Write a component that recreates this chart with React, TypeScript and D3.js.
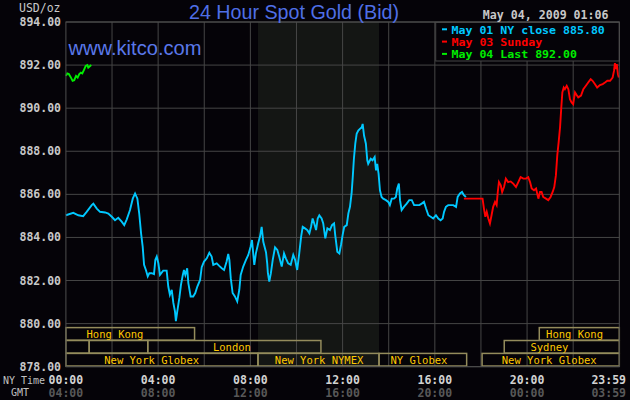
import * as d3 from 'd3';

// price axis
const priceTicks = [878, 880, 882, 884, 886, 888, 890, 892, 894];

// time axis (NY hours), labels for NY time and GMT
const labelHours = [0, 4, 8, 12, 16, 20, 24];
const nyLabels = ['00:00', '04:00', '08:00', '12:00', '16:00', '20:00', '23:59'];
const gmtLabels = ['04:00', '08:00', '12:00', '16:00', '20:00', '00:00', '03:59'];
const gridHours = [2, 4, 6, 8, 10, 12, 14, 16, 18, 20, 22];

// NYMEX pit session (shaded band)
const nymexHours = [8.33, 13.58];

// May 01 (Friday) until NY close
const mayFirst: [number, number][] = [
  [0, 885.03], [0.32, 885.14], [0.54, 885.03], [0.75, 884.99], [0.9, 885.19], [1.12, 885.5],
  [1.19, 885.57], [1.34, 885.34], [1.48, 885.19], [1.7, 885.16], [1.84, 885.11], [1.99, 884.96],
  [2.13, 884.8], [2.27, 884.91], [2.42, 884.73], [2.53, 884.57], [2.64, 884.84], [2.78, 885.27],
  [2.9, 885.8], [3.0, 886.04], [3.1, 885.8], [3.18, 885.11], [3.26, 884.19], [3.33, 883.57],
  [3.39, 882.73], [3.47, 882.49], [3.55, 882.19], [3.62, 882.34], [3.72, 882.34], [3.82, 882.3],
  [3.88, 882.96], [3.94, 883.11], [4.01, 882.8], [4.08, 882.26], [4.22, 882.46], [4.37, 882.46],
  [4.44, 881.72], [4.51, 881.34], [4.59, 881.57], [4.66, 880.96], [4.73, 880.57], [4.77, 880.11],
  [4.83, 880.57], [4.92, 881.19], [4.99, 881.8], [5.07, 882.26], [5.12, 882.49], [5.18, 882.26],
  [5.26, 882.57], [5.31, 881.88], [5.41, 881.26], [5.52, 881.26], [5.61, 881.42], [5.7, 881.72],
  [5.82, 882.03], [5.89, 882.62], [5.99, 882.88], [6.11, 883.03], [6.22, 883.29], [6.32, 883.11],
  [6.39, 882.73], [6.54, 882.8], [6.65, 882.68], [6.76, 882.57], [6.86, 882.49], [6.97, 882.88],
  [7.04, 883.23], [7.09, 882.96], [7.15, 882.11], [7.23, 881.42], [7.33, 881.26], [7.43, 881.03],
  [7.52, 881.57], [7.58, 882.26], [7.69, 882.65], [7.81, 882.96], [7.91, 883.19], [8.01, 883.57],
  [8.07, 883.88], [8.13, 883.19], [8.17, 882.73], [8.24, 883.26], [8.34, 883.73], [8.42, 884.05],
  [8.49, 884.49], [8.56, 883.8], [8.68, 883.3], [8.73, 882.8], [8.76, 882.34], [8.82, 881.95],
  [8.89, 882.34], [8.97, 882.96], [9.07, 883.54], [9.17, 883.42], [9.25, 883.11], [9.36, 882.65],
  [9.46, 883.26], [9.54, 883.03], [9.64, 882.8], [9.75, 882.73], [9.86, 883.19], [9.94, 882.96],
  [10.03, 882.49], [10.12, 883.26], [10.2, 884.03], [10.27, 884.49], [10.37, 884.42], [10.47, 884.34],
  [10.56, 884.19], [10.63, 884.49], [10.7, 884.88], [10.77, 884.65], [10.85, 884.34], [10.92, 884.88],
  [10.99, 885.03], [11.09, 884.88], [11.16, 884.65], [11.25, 883.96], [11.34, 884.42], [11.45, 884.34],
  [11.54, 884.57], [11.63, 884.65], [11.68, 884.11], [11.77, 883.34], [11.86, 883.26], [11.93, 883.65],
  [12.0, 884.11], [12.07, 884.49], [12.18, 884.57], [12.25, 885.11], [12.32, 885.42], [12.39, 886.04],
  [12.44, 886.8], [12.49, 887.65], [12.55, 888.35], [12.61, 888.81], [12.68, 888.96], [12.75, 889.04],
  [12.83, 889.11], [12.87, 889.27], [12.93, 888.73], [13.01, 888.35], [13.07, 887.58], [13.11, 887.42],
  [13.22, 887.65], [13.3, 887.58], [13.39, 887.73], [13.45, 887.11], [13.5, 887.42], [13.56, 886.96],
  [13.62, 886.19], [13.69, 885.88], [13.76, 885.8], [13.88, 885.73], [13.98, 885.65], [14.05, 885.5],
  [14.13, 885.8], [14.23, 885.8], [14.31, 885.88], [14.37, 886.27], [14.44, 886.5], [14.49, 885.73],
  [14.56, 885.27], [14.66, 885.42], [14.78, 885.57], [14.89, 885.73], [15.0, 885.73], [15.1, 885.5],
  [15.21, 885.5], [15.33, 885.5], [15.43, 885.57], [15.53, 885.65], [15.62, 885.34], [15.72, 885.03],
  [15.82, 884.96], [15.93, 884.88], [16.05, 885.03], [16.15, 884.88], [16.25, 884.8], [16.34, 884.88],
  [16.4, 885.19], [16.48, 885.42], [16.58, 885.5], [16.69, 885.5], [16.8, 885.5], [16.92, 885.42],
  [16.99, 885.88], [17.09, 886.04], [17.18, 886.11], [17.26, 885.96], [17.35, 885.88],
];

// May 03 (Sunday) evening trading
const mayThird: [number, number][] = [
  [17.26, 885.8], [18.07, 885.8], [18.13, 885.34], [18.19, 884.96], [18.25, 885.19], [18.32, 884.88],
  [18.39, 884.65], [18.46, 885.03], [18.53, 885.42], [18.61, 885.65], [18.68, 885.5], [18.73, 886.11],
  [18.78, 886.57], [18.86, 886.42], [18.92, 886.11], [19.0, 886.34], [19.08, 886.73], [19.18, 886.57],
  [19.29, 886.6], [19.4, 886.5], [19.52, 886.34], [19.62, 886.57], [19.72, 886.8], [19.84, 886.73],
  [19.95, 886.73], [20.05, 886.8], [20.13, 886.57], [20.2, 886.27], [20.3, 886.19], [20.39, 886.27],
  [20.49, 885.8], [20.56, 886.11], [20.63, 886.11], [20.7, 885.88], [20.82, 885.8], [20.92, 885.73],
  [21.02, 885.88], [21.11, 886.11], [21.18, 886.34], [21.25, 886.88], [21.31, 887.81], [21.37, 888.42],
  [21.43, 889.11], [21.48, 889.96], [21.53, 890.73], [21.59, 890.96], [21.64, 890.88], [21.72, 891.04],
  [21.79, 890.88], [21.86, 890.42], [21.93, 890.27], [22.0, 890.19], [22.08, 890.73], [22.15, 890.61],
  [22.22, 890.5], [22.34, 890.58], [22.44, 890.88], [22.55, 891.04], [22.65, 891.19], [22.76, 891.35],
  [22.84, 891.27], [22.94, 891.12], [23.04, 890.96], [23.16, 891.07], [23.28, 891.12], [23.38, 891.19],
  [23.48, 891.27], [23.6, 891.27], [23.71, 891.42], [23.77, 891.73], [23.81, 892.09], [23.86, 891.81],
  [23.89, 892.04], [23.94, 891.58], [23.98, 891.42],
];

// May 04 so far
const mayFourth: [number, number][] = [
  [0, 891.5], [0.06, 891.61], [0.13, 891.58], [0.22, 891.42], [0.29, 891.27], [0.36, 891.3],
  [0.44, 891.5], [0.51, 891.42], [0.58, 891.58], [0.65, 891.65], [0.71, 891.61], [0.78, 891.77],
  [0.86, 891.96], [0.93, 892.0], [0.97, 891.88], [1.05, 891.96], [1.1, 892.0],
];

const legendLabels = ['May 01 NY close 885.80', 'May 03 Sunday', 'May 04 Last 892.00'];
const seriesColors = ['#00c8ff', '#ff0000', '#00ee00'];

// market sessions drawn as boxes along the bottom
const sessions = [
  { row: 0, from: 0, to: 5.58, label: 'Hong Kong', mid: 2.13 },
  { row: 0, from: 20.53, to: 24, label: 'Hong Kong', mid: 22.06 },
  { row: 1, from: 0, to: 1.01, label: '', mid: 0.5 },
  { row: 1, from: 1.01, to: 3.55, label: '', mid: 2.3 },
  { row: 1, from: 3.55, to: 11.06, label: 'London', mid: 7.2 },
  { row: 1, from: 19.01, to: 24, label: 'Sydney', mid: 20.97 },
  { row: 2, from: 0, to: 8.33, label: 'New York Globex', mid: 3.72 },
  { row: 2, from: 8.33, to: 13.58, label: 'New York NYMEX', mid: 10.98 },
  { row: 2, from: 13.58, to: 17.38, label: 'NY Globex', mid: 15.31 },
  { row: 2, from: 18.05, to: 24, label: 'New York Globex', mid: 20.96 },
];

const W = 630;
const H = 400;
const mono = "'DejaVu Sans Mono', monospace";
const sans = "'Liberation Sans', Arial, sans-serif";

export default function App() {
  const x = d3.scaleLinear().domain([0, 24]).range([65.9, 619.3]);
  const y = d3.scaleLinear().domain([878, 894]).range([366.7, 22]);

  const line = d3
    .line<[number, number]>()
    .x((d) => x(d[0]))
    .y((d) => y(d[1]));

  const rowTop = (r: number) => y(880) + 4 + r * 12.9;
  const rowH = 12.6;

  const legend = { x0: 435.7, y0: 22.3, x1: 619.3, y1: 61 };

  return (
    <svg
      width={W}
      height={H}
      style={{ position: 'absolute', left: 0, top: 0, display: 'block' }}
    >
      <rect width={W} height={H} fill="#050308" />

      {/* NYMEX band */}
      <rect
        x={x(nymexHours[0])}
        y={y(894)}
        width={x(nymexHours[1]) - x(nymexHours[0])}
        height={y(878) - y(894)}
        fill="#141614"
      />

      {/* grid */}
      {priceTicks.map((p) => (
        <line key={p} x1={x(0)} x2={x(24)} y1={y(p)} y2={y(p)} stroke="#464646" strokeWidth={1} />
      ))}
      {gridHours.map((h) => (
        <line key={h} x1={x(h)} x2={x(h)} y1={y(894)} y2={y(878)} stroke="#464646" strokeWidth={1} />
      ))}

      {/* sessions */}
      {sessions.map((s, i) => (
        <g key={i}>
          <rect
            x={x(s.from)}
            y={rowTop(s.row)}
            width={x(s.to) - x(s.from)}
            height={rowH}
            fill="none"
            stroke="#948c5c"
            strokeWidth={1.5}
          />
          {s.label && (
            <text
              x={x(s.mid)}
              y={rowTop(s.row) + rowH / 2 + 0.5}
              textAnchor="middle"
              dominantBaseline="central"
              fontFamily={mono}
              fontSize={10.5}
              fill="#ffc800"
            >
              {s.label}
            </text>
          )}
        </g>
      ))}

      {/* price series */}
      {[mayFirst, mayThird, mayFourth].map((data, i) => (
        <path
          key={i}
          d={line(data) ?? ''}
          fill="none"
          stroke={seriesColors[i]}
          strokeWidth={1.9}
          strokeLinejoin="miter"
        />
      ))}

      {/* legend */}
      <rect
        x={legend.x0}
        y={legend.y0}
        width={legend.x1 - legend.x0}
        height={legend.y1 - legend.y0}
        fill="#050308"
        stroke="#464646"
        strokeWidth={1}
      />
      {legendLabels.map((t, i) => (
        <g key={t} fill={seriesColors[i]}>
          <rect x={442} y={29.3 + i * 12.3 - 1} width={5} height={2} />
          <text
            x={451.5}
            y={29.5 + i * 12.3}
            dominantBaseline="central"
            fontFamily={mono}
            fontSize={10.4}
            fontWeight="bold"
            textLength={t.length * 6.97}
            lengthAdjust="spacingAndGlyphs"
          >
            {t}
          </text>
        </g>
      ))}

      {/* plot border */}
      <rect
        x={x(0)}
        y={y(894)}
        width={x(24) - x(0)}
        height={y(878) - y(894)}
        fill="none"
        stroke="#4e4e4e"
        strokeWidth={1}
      />

      {/* y axis labels */}
      {priceTicks.map((p) => (
        <text
          key={p}
          x={61}
          y={y(p)}
          textAnchor="end"
          dominantBaseline="central"
          fontFamily={mono}
          fontSize={11.5}
          fontWeight="bold"
          fill="#c8c8c8"
        >
          {p.toFixed(2)}
        </text>
      ))}
      <text x={19} y={8} dominantBaseline="central" fontFamily={mono} fontSize={11.5} fill="#c8c8c8">
        USD/oz
      </text>

      {/* x axis labels */}
      {labelHours.map((h, i) => {
        const last = i === labelHours.length - 1;
        return (
          <g key={h} fontFamily={mono} fontSize={11.5} fontWeight="bold" textAnchor={last ? 'end' : 'middle'}>
            <text x={last ? 626 : x(h)} y={380} dominantBaseline="central" fill="#d2d2d2">
              {nyLabels[i]}
            </text>
            <text x={last ? 626 : x(h)} y={392.5} dominantBaseline="central" fill="#585858">
              {gmtLabels[i]}
            </text>
          </g>
        );
      })}
      <text x={3} y={380} dominantBaseline="central" fontFamily={mono} fontSize={10} fill="#c0c0c0">
        NY Time
      </text>
      <text x={11} y={392.5} dominantBaseline="central" fontFamily={mono} fontSize={10} fill="#c0c0c0">
        GMT
      </text>

      {/* titles */}
      <text
        x={294}
        y={19}
        textAnchor="middle"
        fontFamily={sans}
        fontSize={21}
        fill="#4f6fe6"
        textLength={210}
        lengthAdjust="spacingAndGlyphs"
      >
        24 Hour Spot Gold (Bid)
      </text>
      <text
        x={68.5}
        y={55}
        fontFamily={sans}
        fontSize={20}
        fill="#5a78ea"
        textLength={133}
        lengthAdjust="spacingAndGlyphs"
      >
        www.kitco.com
      </text>
      <text
        x={608.5}
        y={15}
        textAnchor="end"
        dominantBaseline="central"
        fontFamily={mono}
        fontSize={11.6}
        fontWeight="bold"
        fill="#c8c8c8"
      >
        May 04, 2009 01:06
      </text>
    </svg>
  );
}
